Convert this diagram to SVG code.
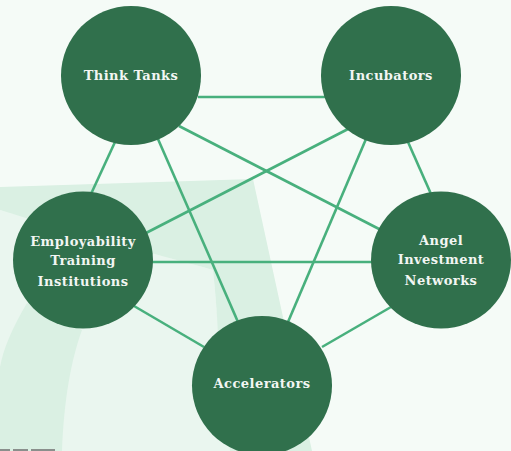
<svg xmlns="http://www.w3.org/2000/svg" width="511" height="451" viewBox="0 0 511 451">
<defs>
<filter id="soft" x="-5%" y="-5%" width="110%" height="110%"><feGaussianBlur stdDeviation="0.5"/></filter>
</defs>
<style>
.band{fill:#daf0e3}
.tint{fill:#eaf6ef}
.link{stroke:#48b07d;stroke-width:2.6;fill:none}
.node{fill:#30704c}
text{font-family:"DejaVu Serif","Liberation Serif",serif;font-weight:700;font-size:13px;letter-spacing:0.45px;fill:#f2f6f3;text-anchor:middle}
</style>
<rect width="511" height="451" fill="#f5fbf7"/>
<g id="background" filter="url(#soft)">
<path class="tint" d="M0 210 L213 270 C216 300 218 330 222 360 L240 451 L0 451 Z"/>
<path class="band" d="M0 187 L253 179 L283 317 L312 451 L230 451 L218 335 C217 310 215 290 213 270 C150 252 70 232 0 210 Z"/>
<path class="band" d="M27 303 C12 328 3 350 0 367 L0 451 L62 451 C64 400 71 360 82 330 Z"/>
<rect x="0" y="449" width="10" height="2" fill="#8a8f8c"/><rect x="13" y="449" width="15" height="2" fill="#8a8f8c"/><rect x="31" y="449" width="24" height="2" fill="#8a8f8c"/>
</g>
<g id="connectors">
<line class="link" x1="198" y1="97" x2="325" y2="97"/>
<line class="link" x1="115" y1="142" x2="91" y2="194"/>
<line class="link" x1="179" y1="126" x2="381" y2="230"/>
<line class="link" x1="158" y1="139" x2="238" y2="322"/>
<line class="link" x1="350" y1="128" x2="146" y2="233"/>
<line class="link" x1="366" y1="139" x2="288" y2="322"/>
<line class="link" x1="408" y1="142" x2="431" y2="194"/>
<line class="link" x1="151" y1="262" x2="373" y2="262"/>
<line class="link" x1="134" y1="306" x2="204" y2="347"/>
<line class="link" x1="322" y1="347" x2="391" y2="307"/>
</g>
<g id="think-tanks"><ellipse class="node" cx="131" cy="75.5" rx="70" ry="69.5"/><text x="131" y="80">Think Tanks</text></g>
<g id="incubators"><ellipse class="node" cx="391" cy="75.5" rx="70" ry="69.5"/><text x="391" y="80">Incubators</text></g>
<g id="employability"><ellipse class="node" cx="83" cy="260" rx="70" ry="68.5"/><text x="83" y="246">Employability</text><text x="83" y="265">Training</text><text x="83" y="285.5">Institutions</text></g>
<g id="angel"><ellipse class="node" cx="441" cy="260" rx="70" ry="68.5"/><text x="441" y="245">Angel</text><text x="441" y="264">Investment</text><text x="441" y="285">Networks</text></g>
<g id="accelerators"><ellipse class="node" cx="262" cy="385.5" rx="70" ry="69.5"/><text x="262" y="388">Accelerators</text></g>
</svg>
